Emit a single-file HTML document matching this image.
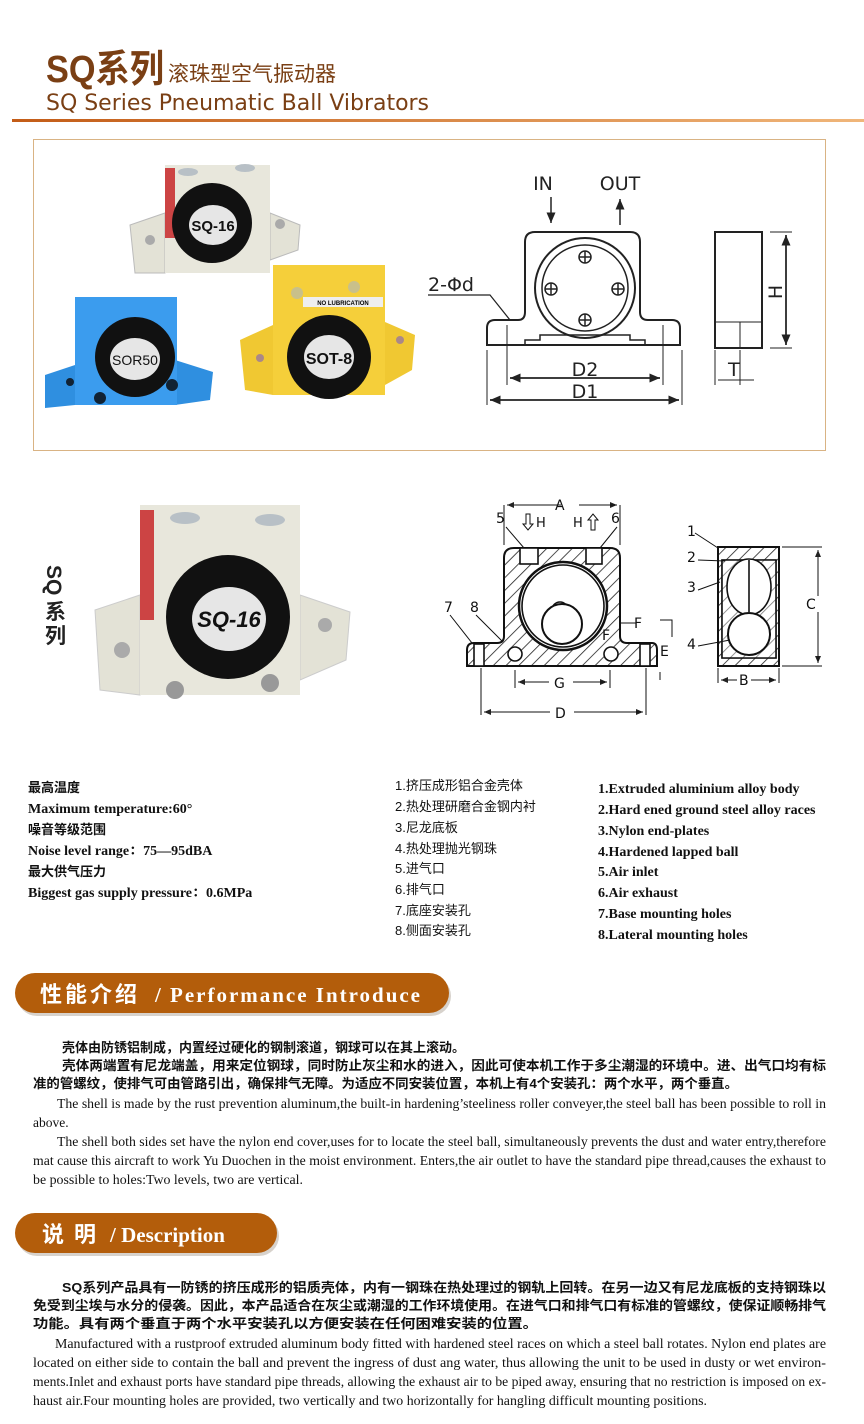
<!DOCTYPE html>
<html><head><meta charset="utf-8"><style>
html,body{margin:0;padding:0;background:#fff;}
svg{display:block}
.cn{font-family:"Liberation Sans","Noto Sans CJK SC",sans-serif;}
.sr{font-family:"Liberation Serif","Noto Serif CJK SC",serif;}
</style></head><body>
<svg width="864" height="1424" viewBox="0 0 864 1424" xmlns="http://www.w3.org/2000/svg">
<defs>
<linearGradient id="hl" x1="0" x2="1"><stop offset="0" stop-color="#c35c17"/><stop offset="1" stop-color="#f0b67a"/></linearGradient>
<pattern id="hatch" width="9" height="9" patternUnits="userSpaceOnUse" patternTransform="rotate(45)"><rect width="9" height="9" fill="#fff"/><line x1="0" y1="0" x2="0" y2="9" stroke="#222" stroke-width="1.6"/></pattern>
<marker id="ar" markerWidth="8" markerHeight="8" refX="7" refY="4" orient="auto"><path d="M0,1 L7,4 L0,7 z" fill="#222"/></marker>
</defs>

<!-- Header -->
<text x="46" y="82" class="cn" font-size="38" font-weight="bold" fill="#7a3f14" textLength="118" lengthAdjust="spacingAndGlyphs">SQ系列</text>
<text x="168" y="81" class="cn" font-size="21" fill="#7a3f14">滚珠型空气振动器</text>
<text x="46" y="110" font-family="DejaVu Sans,sans-serif" font-size="22" fill="#7a3f14" textLength="383">SQ Series Pneumatic Ball Vibrators</text>
<rect x="12" y="119" width="852" height="3" fill="url(#hl)"/>

<!-- Top box -->
<rect x="33.5" y="139.5" width="792" height="311" fill="#fff" stroke="#d9b384"/>

<!-- beige product -->
<g>
<polygon points="130,225 165,213 165,273 135,273" fill="#e3e2d6" stroke="#bbb"/>
<polygon points="270,213 300,225 298,250 270,260" fill="#e3e2d6" stroke="#bbb"/>
<rect x="165" y="165" width="105" height="108" fill="#e8e7dc"/>
<rect x="165" y="168" width="10" height="70" fill="#c44"/>
<ellipse cx="188" cy="172" rx="10" ry="4" fill="#b8c0c6"/><ellipse cx="245" cy="168" rx="10" ry="4" fill="#b8c0c6"/>
<circle cx="212" cy="223" r="40" fill="#111"/><ellipse cx="213" cy="225" rx="24" ry="20" fill="#e6e6e6"/>
<text x="213" y="231" text-anchor="middle" font-family="Liberation Sans,sans-serif" font-size="15" font-weight="bold" fill="#111">SQ-16</text>
<circle cx="150" cy="240" r="5" fill="#aaa"/><circle cx="280" cy="224" r="5" fill="#aaa"/>
</g>
<!-- blue -->
<g>
<polygon points="45,375 75,365 75,405 45,408" fill="#2f8fe0"/>
<polygon points="175,360 213,372 210,400 175,405" fill="#2f8fe0"/>
<rect x="75" y="297" width="102" height="108" fill="#3b9cee"/>
<circle cx="135" cy="357" r="40" fill="#111"/><ellipse cx="135" cy="359" rx="25" ry="21" fill="#e6e6e6"/>
<text x="135" y="365" text-anchor="middle" font-family="Liberation Sans,sans-serif" font-size="14" fill="#111">SOR50</text>
<circle cx="70" cy="382" r="4" fill="#123"/><circle cx="100" cy="398" r="6" fill="#123"/><circle cx="172" cy="385" r="6" fill="#123"/>
</g>
<!-- yellow -->
<g>
<polygon points="240,340 273,325 273,395 245,390" fill="#f0c832"/>
<polygon points="385,322 415,335 412,370 385,385" fill="#f0c832"/>
<rect x="273" y="265" width="112" height="130" fill="#f5cf3a"/>
<rect x="303" y="297" width="80" height="10" fill="#eee"/>
<text x="343" y="305" text-anchor="middle" font-family="Liberation Sans,sans-serif" font-size="6" font-weight="bold">NO LUBRICATION</text>
<circle cx="297" cy="293" r="6" fill="#c9c08a"/><circle cx="354" cy="287" r="6" fill="#c9c08a"/>
<circle cx="329" cy="357" r="42" fill="#111"/><ellipse cx="329" cy="357" rx="25" ry="22" fill="#e6e6e6"/>
<text x="329" y="364" text-anchor="middle" font-family="Liberation Sans,sans-serif" font-size="16" font-weight="bold" fill="#111">SOT-8</text>
<circle cx="260" cy="358" r="4" fill="#a88"/><circle cx="400" cy="340" r="4" fill="#a88"/>
</g>

<!-- top right drawing -->
<g font-family="DejaVu Sans,sans-serif" fill="none" stroke="#222" stroke-width="1.5">
<text x="543" y="190" font-size="19" fill="#222" stroke="none" text-anchor="middle">IN</text>
<text x="620" y="190" font-size="19" fill="#222" stroke="none" text-anchor="middle">OUT</text>
<line x1="551" y1="197" x2="551" y2="223" marker-end="url(#ar)"/>
<line x1="620" y1="225" x2="620" y2="199" marker-end="url(#ar)"/>
<path d="M487,345 L487,328 Q487,320 495,320 L518,320 Q525,320 525,312 L525,242 Q525,232 535,232 L630,232 Q640,232 640,242 L640,312 Q640,320 648,320 L672,320 Q680,320 680,328 L680,345 Z" stroke-width="2"/>
<path d="M525,345 L525,340 L540,340 L540,335 L630,335 L630,340 L645,340 L645,345"/>
<circle cx="585" cy="288" r="50" stroke-width="2"/><circle cx="585" cy="288" r="43"/>
<g stroke-width="1.5">
<circle cx="585" cy="257" r="6"/><path d="M579,257h12M585,251v12"/>
<circle cx="551" cy="289" r="6"/><path d="M545,289h12M551,283v12"/>
<circle cx="618" cy="289" r="6"/><path d="M612,289h12M618,283v12"/>
<circle cx="585" cy="320" r="6"/><path d="M579,320h12M585,314v12"/>
</g>
<path d="M507,325 V385 M663,325 V385 M487,350 V405 M682,350 V405" stroke-width="1"/>
<line x1="510" y1="378" x2="660" y2="378" marker-end="url(#ar)"/><line x1="660" y1="378" x2="510" y2="378" marker-end="url(#ar)"/>
<line x1="490" y1="400" x2="679" y2="400" marker-end="url(#ar)"/><line x1="679" y1="400" x2="490" y2="400" marker-end="url(#ar)"/>
<text x="585" y="376" font-size="19" fill="#222" stroke="none" text-anchor="middle">D2</text>
<text x="585" y="398" font-size="19" fill="#222" stroke="none" text-anchor="middle">D1</text>
<text x="428" y="291" font-size="19" fill="#222" stroke="none">2-Φd</text>
<path d="M428,295 L490,295 L510,320" stroke-width="1.2"/>
<rect x="715" y="232" width="47" height="116" stroke-width="2"/>
<line x1="715" y1="322" x2="762" y2="322" stroke-width="1"/>
<path d="M740,322 V348 M715,350 V385 M740,350 V385 M770,232 H792 M770,348 H792" stroke-width="1"/>
<line x1="786" y1="235" x2="786" y2="345" marker-end="url(#ar)"/><line x1="786" y1="345" x2="786" y2="235" marker-end="url(#ar)"/>
<line x1="718" y1="380" x2="754" y2="380" stroke-width="1"/>
<text x="728" y="376" font-size="19" fill="#222" stroke="none">T</text>
<text x="0" y="0" font-size="19" fill="#222" stroke="none" transform="translate(782,292) rotate(-90)" text-anchor="middle">H</text>
</g>

<!-- big beige product -->
<g>
<polygon points="95,610 140,595 140,695 100,690" fill="#e3e2d6" stroke="#ccc"/>
<polygon points="300,595 350,612 346,660 300,680" fill="#e3e2d6" stroke="#ccc"/>
<rect x="140" y="505" width="160" height="190" fill="#e8e7dc"/>
<rect x="140" y="510" width="14" height="110" fill="#c44"/>
<ellipse cx="185" cy="518" rx="15" ry="6" fill="#b8c0c6"/><ellipse cx="270" cy="520" rx="15" ry="6" fill="#b8c0c6"/>
<circle cx="228" cy="617" r="62" fill="#111"/><ellipse cx="229" cy="619" rx="37" ry="32" fill="#e6e6e6"/>
<text x="229" y="627" text-anchor="middle" font-family="Liberation Sans,sans-serif" font-size="22" font-weight="bold" font-style="italic" fill="#111">SQ-16</text>
<circle cx="122" cy="650" r="8" fill="#aaa"/><circle cx="325" cy="625" r="7" fill="#aaa"/>
<circle cx="175" cy="690" r="9" fill="#999"/><circle cx="270" cy="683" r="9" fill="#999"/>
</g>
<text x="0" y="0" class="cn" font-size="21" font-weight="bold" fill="#222" transform="translate(47,565) rotate(90)">SQ</text>
<text x="45" y="619" class="cn" font-size="21" font-weight="bold" fill="#222">系</text>
<text x="45" y="643" class="cn" font-size="21" font-weight="bold" fill="#222">列</text>

<!-- lower section drawing -->
<g fill="none" stroke="#111" stroke-width="1.6" font-family="DejaVu Sans,sans-serif">
<path d="M504,558 Q504,548 514,548 L610,548 Q620,548 620,558 L620,636 Q620,643 627,643 L652,643 Q657,643 657,650 L657,666 L467,666 L467,650 Q467,643 474,643 L497,643 Q504,643 504,636 Z" fill="url(#hatch)" stroke-width="2"/>
<circle cx="563" cy="606" r="44" fill="#fff" stroke-width="2.5"/><circle cx="563" cy="606" r="41"/>
<circle cx="560" cy="610" r="8" fill="#fff"/>
<circle cx="562" cy="624" r="20" fill="#fff" stroke-width="2"/>
<circle cx="515" cy="654" r="7" fill="#fff"/><circle cx="611" cy="654" r="7" fill="#fff"/>
<rect x="474" y="644" width="10" height="22" fill="#fff"/><rect x="640" y="644" width="10" height="22" fill="#fff"/>
<rect x="520" y="548" width="18" height="16" fill="#fff"/><rect x="586" y="548" width="16" height="16" fill="#fff"/>
<path d="M504,545 V505 M620,545 V505 M481,668 V715 M646,668 V715 M515,670 V688 M610,670 V688" stroke-width="1"/>
<line x1="507" y1="505" x2="617" y2="505" stroke-width="1" marker-end="url(#ar)"/><line x1="617" y1="505" x2="507" y2="505" stroke-width="1" marker-end="url(#ar)"/>
<line x1="518" y1="682" x2="607" y2="682" stroke-width="1" marker-end="url(#ar)"/><line x1="607" y1="682" x2="518" y2="682" stroke-width="1" marker-end="url(#ar)"/>
<line x1="484" y1="712" x2="643" y2="712" stroke-width="1" marker-end="url(#ar)"/><line x1="643" y1="712" x2="484" y2="712" stroke-width="1" marker-end="url(#ar)"/>
<rect x="561" y="497" width="18" height="14" fill="#fff" stroke="none"/>
<rect x="549" y="675" width="24" height="14" fill="#fff" stroke="none"/>
<rect x="550" y="705" width="24" height="14" fill="#fff" stroke="none"/>
<g fill="#111" stroke="none" font-size="14">
<text x="555" y="510">A</text><text x="554" y="688">G</text><text x="555" y="718">D</text>
<text x="496" y="523">5</text><text x="611" y="523">6</text>
<text x="536" y="527" font-size="13">H</text><text x="573" y="527" font-size="13">H</text>
<text x="444" y="612">7</text><text x="470" y="612">8</text>
<text x="602" y="640">F</text><text x="634" y="628">F</text><text x="660" y="656">E</text>
<text x="687" y="536">1</text><text x="687" y="562">2</text><text x="687" y="592">3</text><text x="687" y="649">4</text>
</g>
<path d="M526,514 v10 h-3 l5,6 l5,-6 h-3 v-10 z" stroke-width="1"/>
<path d="M591,530 v-10 h-3 l5,-6 l5,6 h-3 v10 z" stroke-width="1"/>
<path d="M506,527 L524,548 M617,527 L600,548 M450,615 L472,643 M476,615 L503,642" stroke-width="1"/>
<path d="M621,623 H636 M660,620 H672 V637 M660,672 V680" stroke-width="1"/>
<rect x="718" y="547" width="61" height="119" fill="url(#hatch)" stroke-width="2"/>
<path d="M722,560 H776 V658 H722 Z" fill="#fff"/>
<path d="M722,560 H776 V658 H722 Z" fill="url(#hatch)" opacity="0.6"/>
<ellipse cx="749" cy="587" rx="22" ry="28" fill="#fff"/>
<circle cx="749" cy="634" r="21" fill="#fff" stroke-width="2"/>
<line x1="749" y1="560" x2="749" y2="612"/>
<path d="M695,533 L718,548 M698,560 L725,561 M698,590 L720,582 M698,646 L730,640" stroke-width="1"/>
<path d="M782,547 H822 M782,666 H822 M718,668 V683 M779,668 V683" stroke-width="1"/>
<line x1="818" y1="550" x2="818" y2="663" stroke-width="1" marker-end="url(#ar)"/><line x1="818" y1="663" x2="818" y2="550" stroke-width="1" marker-end="url(#ar)"/>
<line x1="721" y1="680" x2="776" y2="680" stroke-width="1" marker-end="url(#ar)"/><line x1="776" y1="680" x2="721" y2="680" stroke-width="1" marker-end="url(#ar)"/>
<rect x="805" y="596" width="16" height="16" fill="#fff" stroke="none"/>
<rect x="737" y="673" width="14" height="14" fill="#fff" stroke="none"/>
<text x="806" y="609" fill="#111" stroke="none" font-size="14">C</text><text x="739" y="685" fill="#111" stroke="none" font-size="14">B</text>
</g>

<!-- spec lists -->
<g fill="#111" font-size="13">
<text x="28" y="792" class="cn" font-weight="bold">最高温度</text>
<text x="28" y="813" class="sr" font-weight="bold" font-size="14">Maximum temperature:60°</text>
<text x="28" y="834" class="cn" font-weight="bold">噪音等级范围</text>
<text x="28" y="855" class="sr" font-weight="bold" font-size="14">Noise level range：75—95dBA</text>
<text x="28" y="876" class="cn" font-weight="bold">最大供气压力</text>
<text x="28" y="897" class="sr" font-weight="bold" font-size="14">Biggest gas supply pressure：0.6MPa</text>
</g>
<g fill="#111" font-size="13" class="cn">
<text x="395" y="790">1.挤压成形铝合金壳体</text>
<text x="395" y="811">2.热处理研磨合金钢内衬</text>
<text x="395" y="832">3.尼龙底板</text>
<text x="395" y="853">4.热处理抛光钢珠</text>
<text x="395" y="873">5.进气口</text>
<text x="395" y="894">6.排气口</text>
<text x="395" y="915">7.底座安装孔</text>
<text x="395" y="935">8.侧面安装孔</text>
</g>
<g fill="#111" font-size="14" font-weight="bold" class="sr">
<text x="598" y="793">1.Extruded aluminium alloy body</text>
<text x="598" y="814">2.Hard ened ground steel alloy races</text>
<text x="598" y="835">3.Nylon end-plates</text>
<text x="598" y="856">4.Hardened lapped ball</text>
<text x="598" y="876">5.Air inlet</text>
<text x="598" y="897">6.Air exhaust</text>
<text x="598" y="918">7.Base mounting holes</text>
<text x="598" y="939">8.Lateral mounting holes</text>
</g>

<!-- Performance banner -->
<rect x="17" y="976" width="434" height="40" rx="20" fill="#d7d2cc"/>
<rect x="15" y="973" width="434" height="40" rx="20" fill="#b35d0b"/>
<text x="40" y="1002" fill="#fff" font-size="22" font-weight="bold" class="cn" letter-spacing="3">性能介绍</text>
<text x="155" y="1002" fill="#fff" font-size="21" font-weight="bold" class="sr" textLength="265">/ Performance Introduce</text>

<g fill="#111" font-size="13" font-weight="bold" class="cn">
<text x="62" y="1052">壳体由防锈铝制成，内置经过硬化的钢制滚道，钢球可以在其上滚动。</text>
<text x="62" y="1070" textLength="764" lengthAdjust="spacingAndGlyphs">壳体两端置有尼龙端盖，用来定位钢球，同时防止灰尘和水的进入，因此可使本机工作于多尘潮湿的环境中。进、出气口均有标</text>
<text x="33" y="1088" textLength="705" lengthAdjust="spacingAndGlyphs">准的管螺纹，使排气可由管路引出，确保排气无障。为适应不同安装位置，本机上有4个安装孔：两个水平，两个垂直。</text>
</g>
<g fill="#111" font-size="13.5" class="sr">
<text x="57" y="1108" textLength="769" lengthAdjust="spacingAndGlyphs">The shell is made by the rust prevention aluminum,the built-in hardening’steeliness roller conveyer,the steel ball has been possible to roll in</text>
<text x="33" y="1127">above.</text>
<text x="57" y="1146" textLength="769" lengthAdjust="spacingAndGlyphs">The shell both sides set have the nylon end cover,uses for to locate the steel ball, simultaneously prevents the dust and water entry,therefore</text>
<text x="33" y="1165" textLength="793" lengthAdjust="spacingAndGlyphs">mat cause this aircraft to work Yu Duochen in the moist environment. Enters,the air outlet to have the standard pipe thread,causes the exhaust to</text>
<text x="33" y="1184" textLength="270" lengthAdjust="spacingAndGlyphs">be possible to holes:Two levels, two are vertical.</text>
</g>

<!-- Description banner -->
<rect x="17" y="1216" width="262" height="40" rx="20" fill="#d7d2cc"/>
<rect x="15" y="1213" width="262" height="40" rx="20" fill="#b35d0b"/>
<text x="42" y="1242" fill="#fff" font-size="22" font-weight="bold" class="cn" letter-spacing="10">说明</text>
<text x="110" y="1242" fill="#fff" font-size="21" font-weight="bold" class="sr">/ Description</text>

<g fill="#111" font-size="13" font-weight="bold" class="cn">
<text x="62" y="1292" textLength="764" lengthAdjust="spacingAndGlyphs">SQ系列产品具有一防锈的挤压成形的铝质壳体，内有一钢珠在热处理过的钢轨上回转。在另一边又有尼龙底板的支持钢珠以</text>
<text x="33" y="1310" textLength="793" lengthAdjust="spacingAndGlyphs">免受到尘埃与水分的侵袭。因此，本产品适合在灰尘或潮湿的工作环境使用。在进气口和排气口有标准的管螺纹，使保证顺畅排气</text>
<text x="33" y="1328" textLength="505" lengthAdjust="spacingAndGlyphs">功能。具有两个垂直于两个水平安装孔以方便安装在任何困难安装的位置。</text>
</g>
<g fill="#111" font-size="13.5" class="sr">
<text x="55" y="1348" textLength="771" lengthAdjust="spacingAndGlyphs">Manufactured with a rustproof  extruded aluminum body  fitted with hardened steel races on which a steel ball rotates. Nylon end plates are</text>
<text x="33" y="1367" textLength="793" lengthAdjust="spacingAndGlyphs">located on either side to contain the ball and prevent the ingress of dust ang water, thus allowing the unit to be used in dusty or wet environ-</text>
<text x="33" y="1386" textLength="793" lengthAdjust="spacingAndGlyphs">ments.Inlet and exhaust ports have standard pipe threads, allowing the exhaust air to be piped away, ensuring that no restriction is imposed on ex-</text>
<text x="33" y="1405" textLength="674" lengthAdjust="spacingAndGlyphs">haust air.Four mounting holes are provided, two vertically and two horizontally for hangling difficult mounting positions.</text>
</g>
</svg>
</body></html>
